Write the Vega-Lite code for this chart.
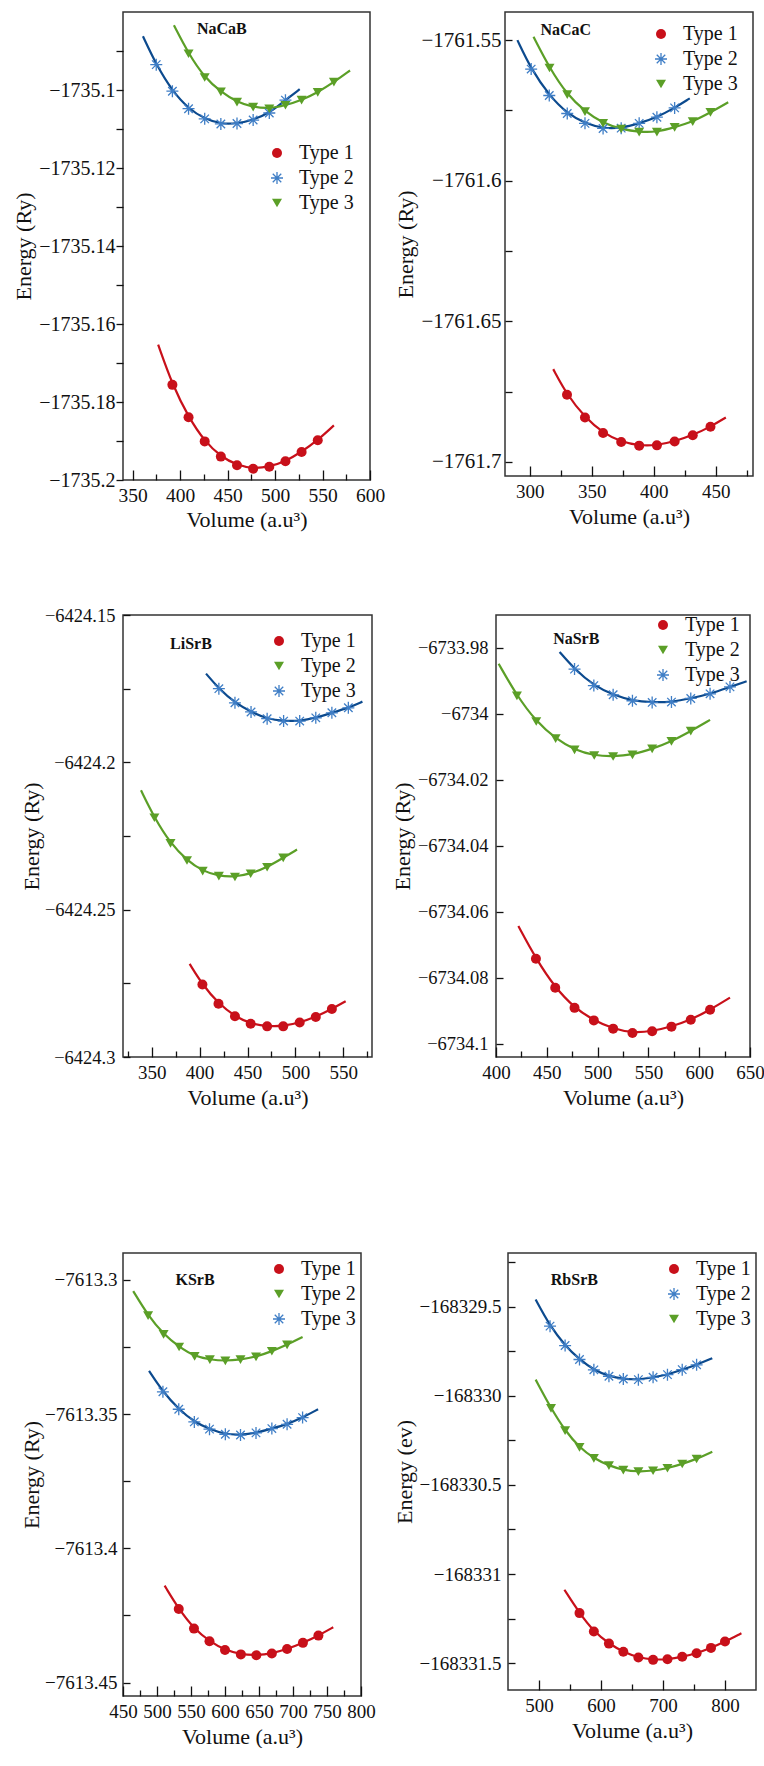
{
  "$schema": "https://vega.github.io/schema/vega-lite/v6.json",
  "background": "white",
  "padding": {"left": 11, "top": 11, "right": 0, "bottom": 0},
  "config": {
    "view": {"stroke": "#333333", "strokeWidth": 1.5},
    "axis": {"domain": false, "grid": false, "tickColor": "#111111", "tickWidth": 1.3, "labelFont": "Liberation Serif", "labelFontSize": 20, "labelColor": "#111111", "titleFont": "Liberation Serif", "titleFontSize": 22, "titleFontWeight": "normal", "titleColor": "#111111", "labelFlush": false, "labelOverlap": false, "labelBound": false},
    "legend": {"labelFont": "Liberation Serif", "labelFontSize": 20, "labelColor": "#111111", "symbolSize": 100, "rowPadding": 5, "labelOffset": 12, "padding": 0, "symbolStrokeWidth": 0}
  },
  "resolve": {"scale": {"color": "independent", "shape": "independent", "stroke": "independent"}, "legend": {"color": "independent", "shape": "independent"}},
  "spacing": 143,
  "vconcat": [
    {
      "spacing": 73,
      "resolve": {"scale": {"color": "independent", "shape": "independent", "stroke": "independent"}, "legend": {"color": "independent", "shape": "independent"}},
      "vconcat": [
        {
          "spacing": 135, "bounds": "flush",
          "resolve": {"scale": {"color": "independent", "shape": "independent", "stroke": "independent"}, "legend": {"color": "independent", "shape": "independent"}},
          "hconcat": [
            {
              "width": 247, "height": 468,
              "data": {"values": [
                {"v":377,"e":-1735.1653,"t":"Type 1","k":"c"},{"v":392,"e":-1735.1756,"t":"Type 1","k":"p"},{"v":409,"e":-1735.1839,"t":"Type 1","k":"p"},{"v":426,"e":-1735.1901,"t":"Type 1","k":"p"},{"v":443,"e":-1735.194,"t":"Type 1","k":"p"},{"v":460,"e":-1735.1962,"t":"Type 1","k":"p"},{"v":477,"e":-1735.1971,"t":"Type 1","k":"p"},{"v":494,"e":-1735.1966,"t":"Type 1","k":"p"},{"v":511,"e":-1735.1952,"t":"Type 1","k":"p"},{"v":528,"e":-1735.1928,"t":"Type 1","k":"p"},{"v":545,"e":-1735.1898,"t":"Type 1","k":"p"},{"v":562,"e":-1735.186,"t":"Type 1","k":"c"},
                {"v":361,"e":-1735.0862,"t":"Type 2","k":"c"},{"v":375,"e":-1735.0935,"t":"Type 2","k":"p"},{"v":392,"e":-1735.1003,"t":"Type 2","k":"p"},{"v":409,"e":-1735.1048,"t":"Type 2","k":"p"},{"v":426,"e":-1735.1074,"t":"Type 2","k":"p"},{"v":443,"e":-1735.1087,"t":"Type 2","k":"p"},{"v":460,"e":-1735.1086,"t":"Type 2","k":"p"},{"v":477,"e":-1735.1077,"t":"Type 2","k":"p"},{"v":494,"e":-1735.1059,"t":"Type 2","k":"p"},{"v":511,"e":-1735.1026,"t":"Type 2","k":"p"},{"v":526,"e":-1735.0998,"t":"Type 2","k":"c"},
                {"v":393.6,"e":-1735.0834,"t":"Type 3","k":"c"},{"v":409,"e":-1735.0907,"t":"Type 3","k":"p"},{"v":426,"e":-1735.0968,"t":"Type 3","k":"p"},{"v":443,"e":-1735.1005,"t":"Type 3","k":"p"},{"v":460,"e":-1735.1031,"t":"Type 3","k":"p"},{"v":477,"e":-1735.1044,"t":"Type 3","k":"p"},{"v":494,"e":-1735.1048,"t":"Type 3","k":"p"},{"v":511,"e":-1735.1039,"t":"Type 3","k":"p"},{"v":528,"e":-1735.1026,"t":"Type 3","k":"p"},{"v":545,"e":-1735.1006,"t":"Type 3","k":"p"},{"v":562,"e":-1735.098,"t":"Type 3","k":"p"},{"v":579,"e":-1735.095,"t":"Type 3","k":"c"}
              ]},
              "resolve": {"axis": {"x": "independent"}},
              "layer": [
                {"mark": {"type": "line", "interpolate": "basis", "strokeWidth": 2.2},
                 "encoding": {
                   "x": {"field": "v", "type": "quantitative", "scale": {"domain": [340, 600], "zero": false, "nice": false}, "axis": {"orient": "bottom", "values": [350,400,450,500,550,600], "tickSize": -10, "labelPadding": 16, "labelFontSize": 19.5, "title": "Volume (a.u³)", "titlePadding": 5, "format": "d"}},
                   "y": {"field": "e", "type": "quantitative", "scale": {"domain": [-1735.2, -1735.08], "zero": false, "nice": false}, "axis": {"orient": "left", "values": [-1735.2,-1735.19,-1735.18,-1735.17,-1735.16,-1735.15,-1735.14,-1735.13,-1735.12,-1735.11,-1735.1,-1735.09], "labelExpr": "indexof([-1735.2,-1735.18,-1735.16,-1735.14,-1735.12,-1735.1], datum.value) >= 0 ? format(datum.value, '.4~f') : ''", "tickSize": 7, "labelPadding": 1, "labelFontSize": 20, "title": "Energy (Ry)", "titlePadding": 3}},
                   "stroke": {"field": "t", "type": "nominal", "scale": {"domain": ["Type 3","Type 2","Type 1"], "range": ["#5b9f27","#0c4a8e","#c8101a"]}, "legend": null}
                 }},
                {"transform": [{"filter": "datum.k == 'p'"}],
                 "mark": {"type": "point", "filled": true, "size": 100, "opacity": 1},
                 "encoding": {
                   "x": {"field": "v", "type": "quantitative", "axis": {"orient": "bottom", "values": [375,425,475,525,575], "tickSize": -6, "labels": false, "title": null}},
                   "y": {"field": "e", "type": "quantitative"},
                   "color": {"field": "t", "type": "nominal", "scale": {"domain": ["Type 1","Type 2","Type 3"], "range": ["#c8101a","#3f7ec6","#5b9f27"]}, "legend": {"title": null, "orient": "none", "legendX": 144, "legendY": 131}},
                   "shape": {"field": "t", "type": "nominal", "scale": {"domain": ["Type 1","Type 2","Type 3"], "range": ["circle","M-0.13,-1.2L0.13,-1.2L0.13,1.2L-0.13,1.2ZM-1.2,-0.13L1.2,-0.13L1.2,0.13L-1.2,0.13ZM0.757,0.941L-0.941,-0.757L-0.757,-0.941L0.941,0.757ZM0.941,-0.757L-0.757,0.941L-0.941,0.757L0.757,-0.941Z","triangle-down"]}, "legend": {"title": null, "orient": "none", "legendX": 144, "legendY": 131}}
                 }},
                {"data": {"values": [{"v": 444, "e": -1735.0843, "n": "NaCaB"}]},
                 "mark": {"type": "text", "font": "Liberation Serif", "fontWeight": "bold", "fontSize": 16, "color": "#111111"},
                 "encoding": {"x": {"field": "v", "type": "quantitative", "axis": null}, "y": {"field": "e", "type": "quantitative"}, "text": {"field": "n"}}}
              ]
            },
            {
              "width": 248, "height": 464,
              "data": {"values": [
                {"v":318.9,"e":-1761.667,"t":"Type 1","k":"c"},{"v":330,"e":-1761.6761,"t":"Type 1","k":"p"},{"v":344.5,"e":-1761.6842,"t":"Type 1","k":"p"},{"v":359.1,"e":-1761.6897,"t":"Type 1","k":"p"},{"v":373.7,"e":-1761.6929,"t":"Type 1","k":"p"},{"v":388.2,"e":-1761.6942,"t":"Type 1","k":"p"},{"v":402.5,"e":-1761.6941,"t":"Type 1","k":"p"},{"v":416.8,"e":-1761.6927,"t":"Type 1","k":"p"},{"v":431.4,"e":-1761.6905,"t":"Type 1","k":"p"},{"v":445.7,"e":-1761.6875,"t":"Type 1","k":"p"},{"v":458.1,"e":-1761.6842,"t":"Type 1","k":"c"},
                {"v":290,"e":-1761.55,"t":"Type 2","k":"c"},{"v":301.1,"e":-1761.5603,"t":"Type 2","k":"p"},{"v":315.7,"e":-1761.5697,"t":"Type 2","k":"p"},{"v":330.2,"e":-1761.5761,"t":"Type 2","k":"p"},{"v":344.5,"e":-1761.5796,"t":"Type 2","k":"p"},{"v":359.1,"e":-1761.5814,"t":"Type 2","k":"p"},{"v":373.7,"e":-1761.5813,"t":"Type 2","k":"p"},{"v":388.2,"e":-1761.5796,"t":"Type 2","k":"p"},{"v":402.5,"e":-1761.5774,"t":"Type 2","k":"p"},{"v":416.8,"e":-1761.5741,"t":"Type 2","k":"p"},{"v":429,"e":-1761.5707,"t":"Type 2","k":"c"},
                {"v":303,"e":-1761.5488,"t":"Type 3","k":"c"},{"v":315.9,"e":-1761.5599,"t":"Type 3","k":"p"},{"v":330.2,"e":-1761.5694,"t":"Type 3","k":"p"},{"v":344.5,"e":-1761.5754,"t":"Type 3","k":"p"},{"v":359.1,"e":-1761.5796,"t":"Type 3","k":"p"},{"v":373.7,"e":-1761.5816,"t":"Type 3","k":"p"},{"v":388.2,"e":-1761.5827,"t":"Type 3","k":"p"},{"v":402.5,"e":-1761.5827,"t":"Type 3","k":"p"},{"v":416.8,"e":-1761.581,"t":"Type 3","k":"p"},{"v":431.4,"e":-1761.579,"t":"Type 3","k":"p"},{"v":445.7,"e":-1761.5757,"t":"Type 3","k":"p"},{"v":460,"e":-1761.5721,"t":"Type 3","k":"c"}
              ]},
              "resolve": {"axis": {"x": "independent"}},
              "layer": [
                {"mark": {"type": "line", "interpolate": "basis", "strokeWidth": 2.2},
                 "encoding": {
                   "x": {"field": "v", "type": "quantitative", "scale": {"domain": [280, 480], "zero": false, "nice": false}, "axis": {"orient": "bottom", "values": [300,350,400,450], "tickSize": -10, "labelPadding": 16, "labelFontSize": 19, "title": "Volume (a.u³)", "titlePadding": 5, "format": "d"}},
                   "y": {"field": "e", "type": "quantitative", "scale": {"domain": [-1761.705, -1761.54], "zero": false, "nice": false}, "axis": {"orient": "left", "values": [-1761.7,-1761.675,-1761.65,-1761.625,-1761.6,-1761.575,-1761.55], "labelExpr": "indexof([-1761.7,-1761.65,-1761.6,-1761.55], datum.value) >= 0 ? format(datum.value, '.4~f') : ''", "tickSize": -7, "labelPadding": 11, "labelFontSize": 21, "title": "Energy (Ry)", "titlePadding": 3}},
                   "stroke": {"field": "t", "type": "nominal", "scale": {"domain": ["Type 3","Type 2","Type 1"], "range": ["#5b9f27","#0c4a8e","#c8101a"]}, "legend": null}
                 }},
                {"transform": [{"filter": "datum.k == 'p'"}],
                 "mark": {"type": "point", "filled": true, "size": 100, "opacity": 1},
                 "encoding": {
                   "x": {"field": "v", "type": "quantitative", "axis": {"orient": "bottom", "values": [325,375,425,475], "tickSize": -6, "labels": false, "title": null}},
                   "y": {"field": "e", "type": "quantitative"},
                   "color": {"field": "t", "type": "nominal", "scale": {"domain": ["Type 1","Type 2","Type 3"], "range": ["#c8101a","#3f7ec6","#5b9f27"]}, "legend": {"title": null, "orient": "none", "legendX": 146, "legendY": 12}},
                   "shape": {"field": "t", "type": "nominal", "scale": {"domain": ["Type 1","Type 2","Type 3"], "range": ["circle","M-0.13,-1.2L0.13,-1.2L0.13,1.2L-0.13,1.2ZM-1.2,-0.13L1.2,-0.13L1.2,0.13L-1.2,0.13ZM0.757,0.941L-0.941,-0.757L-0.757,-0.941L0.941,0.757ZM0.941,-0.757L-0.757,0.941L-0.941,0.757L0.757,-0.941Z","triangle-down"]}, "legend": {"title": null, "orient": "none", "legendX": 146, "legendY": 12}}
                 }},
                {"data": {"values": [{"v": 329, "e": -1761.5465, "n": "NaCaC"}]},
                 "mark": {"type": "text", "font": "Liberation Serif", "fontWeight": "bold", "fontSize": 16, "color": "#111111"},
                 "encoding": {"x": {"field": "v", "type": "quantitative", "axis": null}, "y": {"field": "e", "type": "quantitative"}, "text": {"field": "n"}}}
              ]
            }
          ]
        },
        {
          "spacing": 124, "bounds": "flush",
          "resolve": {"scale": {"color": "independent", "shape": "independent", "stroke": "independent"}, "legend": {"color": "independent", "shape": "independent"}},
          "hconcat": [
            {
              "width": 249, "height": 442,
              "data": {"values": [
                {"v":389.6,"e":-6424.2684,"t":"Type 1","k":"c"},{"v":402.9,"e":-6424.2754,"t":"Type 1","k":"p"},{"v":419.7,"e":-6424.2819,"t":"Type 1","k":"p"},{"v":436.9,"e":-6424.2862,"t":"Type 1","k":"p"},{"v":453.3,"e":-6424.2887,"t":"Type 1","k":"p"},{"v":470.5,"e":-6424.2896,"t":"Type 1","k":"p"},{"v":487.3,"e":-6424.2896,"t":"Type 1","k":"p"},{"v":504.5,"e":-6424.2883,"t":"Type 1","k":"p"},{"v":521.3,"e":-6424.2864,"t":"Type 1","k":"p"},{"v":538.1,"e":-6424.2837,"t":"Type 1","k":"p"},{"v":552.5,"e":-6424.2811,"t":"Type 1","k":"c"},
                {"v":338.8,"e":-6424.2095,"t":"Type 2","k":"c"},{"v":352.8,"e":-6424.2188,"t":"Type 2","k":"p"},{"v":369.6,"e":-6424.2275,"t":"Type 2","k":"p"},{"v":386.8,"e":-6424.2333,"t":"Type 2","k":"p"},{"v":403.2,"e":-6424.2369,"t":"Type 2","k":"p"},{"v":420.1,"e":-6424.2386,"t":"Type 2","k":"p"},{"v":436.9,"e":-6424.2389,"t":"Type 2","k":"p"},{"v":453.3,"e":-6424.2378,"t":"Type 2","k":"p"},{"v":470.5,"e":-6424.2356,"t":"Type 2","k":"p"},{"v":487.3,"e":-6424.2324,"t":"Type 2","k":"p"},{"v":501.7,"e":-6424.2296,"t":"Type 2","k":"c"},
                {"v":406.7,"e":-6424.1699,"t":"Type 3","k":"c"},{"v":420.1,"e":-6424.175,"t":"Type 3","k":"p"},{"v":436.9,"e":-6424.1798,"t":"Type 3","k":"p"},{"v":453.7,"e":-6424.1829,"t":"Type 3","k":"p"},{"v":470.5,"e":-6424.1852,"t":"Type 3","k":"p"},{"v":487.7,"e":-6424.186,"t":"Type 3","k":"p"},{"v":504.5,"e":-6424.186,"t":"Type 3","k":"p"},{"v":521.3,"e":-6424.1849,"t":"Type 3","k":"p"},{"v":538.1,"e":-6424.1832,"t":"Type 3","k":"p"},{"v":555.3,"e":-6424.1815,"t":"Type 3","k":"p"},{"v":570,"e":-6424.1794,"t":"Type 3","k":"c"}
              ]},
              "resolve": {"axis": {"x": "independent"}},
              "layer": [
                {"mark": {"type": "line", "interpolate": "basis", "strokeWidth": 2.2},
                 "encoding": {
                   "x": {"field": "v", "type": "quantitative", "scale": {"domain": [320, 580], "zero": false, "nice": false}, "axis": {"orient": "bottom", "values": [350,400,450,500,550], "tickSize": -10, "labelPadding": 16, "labelFontSize": 19, "title": "Volume (a.u³)", "titlePadding": 5, "format": "d"}},
                   "y": {"field": "e", "type": "quantitative", "scale": {"domain": [-6424.3, -6424.15], "zero": false, "nice": false}, "axis": {"orient": "left", "values": [-6424.3,-6424.275,-6424.25,-6424.225,-6424.2,-6424.175,-6424.15], "labelExpr": "indexof([-6424.3,-6424.25,-6424.2,-6424.15], datum.value) >= 0 ? format(datum.value, '.4~f') : ''", "tickSize": -7, "labelPadding": 15, "labelFontSize": 18.5, "title": "Energy (Ry)", "titlePadding": 1}},
                   "stroke": {"field": "t", "type": "nominal", "scale": {"domain": ["Type 3","Type 2","Type 1"], "range": ["#0c4a8e","#5b9f27","#c8101a"]}, "legend": null}
                 }},
                {"transform": [{"filter": "datum.k == 'p'"}],
                 "mark": {"type": "point", "filled": true, "size": 100, "opacity": 1},
                 "encoding": {
                   "x": {"field": "v", "type": "quantitative", "axis": {"orient": "bottom", "values": [325,375,425,475,525,575], "tickSize": -6, "labels": false, "title": null}},
                   "y": {"field": "e", "type": "quantitative"},
                   "color": {"field": "t", "type": "nominal", "scale": {"domain": ["Type 1","Type 2","Type 3"], "range": ["#c8101a","#5b9f27","#3f7ec6"]}, "legend": {"title": null, "orient": "none", "legendX": 146, "legendY": 16}},
                   "shape": {"field": "t", "type": "nominal", "scale": {"domain": ["Type 1","Type 2","Type 3"], "range": ["circle","triangle-down","M-0.13,-1.2L0.13,-1.2L0.13,1.2L-0.13,1.2ZM-1.2,-0.13L1.2,-0.13L1.2,0.13L-1.2,0.13ZM0.757,0.941L-0.941,-0.757L-0.757,-0.941L0.941,0.757ZM0.941,-0.757L-0.757,0.941L-0.941,0.757L0.757,-0.941Z"]}, "legend": {"title": null, "orient": "none", "legendX": 146, "legendY": 16}}
                 }},
                {"data": {"values": [{"v": 391, "e": -6424.1597, "n": "LiSrB"}]},
                 "mark": {"type": "text", "font": "Liberation Serif", "fontWeight": "bold", "fontSize": 16, "color": "#111111"},
                 "encoding": {"x": {"field": "v", "type": "quantitative", "axis": null}, "y": {"field": "e", "type": "quantitative"}, "text": {"field": "n"}}}
              ]
            },
            {
              "width": 254, "height": 442,
              "data": {"values": [
                {"v":422,"e":-6734.0643,"t":"Type 1","k":"c"},{"v":439.3,"e":-6734.0742,"t":"Type 1","k":"p"},{"v":458.3,"e":-6734.083,"t":"Type 1","k":"p"},{"v":477.3,"e":-6734.0891,"t":"Type 1","k":"p"},{"v":496.3,"e":-6734.0929,"t":"Type 1","k":"p"},{"v":515.3,"e":-6734.0954,"t":"Type 1","k":"p"},{"v":534.3,"e":-6734.0967,"t":"Type 1","k":"p"},{"v":553.7,"e":-6734.0962,"t":"Type 1","k":"p"},{"v":572.7,"e":-6734.0948,"t":"Type 1","k":"p"},{"v":591.7,"e":-6734.0927,"t":"Type 1","k":"p"},{"v":610.7,"e":-6734.0897,"t":"Type 1","k":"p"},{"v":630.3,"e":-6734.086,"t":"Type 1","k":"c"},
                {"v":402.6,"e":-6733.9848,"t":"Type 2","k":"c"},{"v":420.6,"e":-6733.9945,"t":"Type 2","k":"p"},{"v":439.6,"e":-6734.0023,"t":"Type 2","k":"p"},{"v":458.7,"e":-6734.0075,"t":"Type 2","k":"p"},{"v":477.3,"e":-6734.0109,"t":"Type 2","k":"p"},{"v":496.7,"e":-6734.0126,"t":"Type 2","k":"p"},{"v":515.3,"e":-6734.0129,"t":"Type 2","k":"p"},{"v":534.3,"e":-6734.0124,"t":"Type 2","k":"p"},{"v":553.7,"e":-6734.0106,"t":"Type 2","k":"p"},{"v":572.7,"e":-6734.0083,"t":"Type 2","k":"p"},{"v":591.7,"e":-6734.0052,"t":"Type 2","k":"p"},{"v":610.7,"e":-6734.0018,"t":"Type 2","k":"c"},
                {"v":462.6,"e":-6733.9812,"t":"Type 3","k":"c"},{"v":477.3,"e":-6733.9864,"t":"Type 3","k":"p"},{"v":496.3,"e":-6733.9914,"t":"Type 3","k":"p"},{"v":515.3,"e":-6733.9942,"t":"Type 3","k":"p"},{"v":534.3,"e":-6733.996,"t":"Type 3","k":"p"},{"v":553.7,"e":-6733.9965,"t":"Type 3","k":"p"},{"v":572.7,"e":-6733.9964,"t":"Type 3","k":"p"},{"v":591.7,"e":-6733.9953,"t":"Type 3","k":"p"},{"v":610.7,"e":-6733.9939,"t":"Type 3","k":"p"},{"v":630.3,"e":-6733.9918,"t":"Type 3","k":"p"},{"v":646.7,"e":-6733.9901,"t":"Type 3","k":"c"}
              ]},
              "resolve": {"axis": {"x": "independent"}},
              "layer": [
                {"mark": {"type": "line", "interpolate": "basis", "strokeWidth": 2.2},
                 "encoding": {
                   "x": {"field": "v", "type": "quantitative", "scale": {"domain": [400, 650], "zero": false, "nice": false}, "axis": {"orient": "bottom", "values": [400,450,500,550,600,650], "tickSize": -10, "labelPadding": 16, "labelFontSize": 19, "title": "Volume (a.u³)", "titlePadding": 5, "format": "d"}},
                   "y": {"field": "e", "type": "quantitative", "scale": {"domain": [-6734.104, -6733.97], "zero": false, "nice": false}, "axis": {"orient": "left", "values": [-6734.1,-6734.09,-6734.08,-6734.07,-6734.06,-6734.05,-6734.04,-6734.03,-6734.02,-6734.01,-6734,-6733.99,-6733.98], "labelExpr": "indexof([-6734.1,-6734.08,-6734.06,-6734.04,-6734.02,-6734,-6733.98], datum.value) >= 0 ? format(datum.value, '.4~f') : ''", "tickSize": -7, "labelPadding": 15, "labelFontSize": 18.5, "title": "Energy (Ry)", "titlePadding": 3}},
                   "stroke": {"field": "t", "type": "nominal", "scale": {"domain": ["Type 3","Type 2","Type 1"], "range": ["#0c4a8e","#5b9f27","#c8101a"]}, "legend": null}
                 }},
                {"transform": [{"filter": "datum.k == 'p'"}],
                 "mark": {"type": "point", "filled": true, "size": 100, "opacity": 1},
                 "encoding": {
                   "x": {"field": "v", "type": "quantitative", "axis": {"orient": "bottom", "values": [425,475,525,575,625], "tickSize": -6, "labels": false, "title": null}},
                   "y": {"field": "e", "type": "quantitative"},
                   "color": {"field": "t", "type": "nominal", "scale": {"domain": ["Type 1","Type 2","Type 3"], "range": ["#c8101a","#5b9f27","#3f7ec6"]}, "legend": {"title": null, "orient": "none", "legendX": 157, "legendY": 0}},
                   "shape": {"field": "t", "type": "nominal", "scale": {"domain": ["Type 1","Type 2","Type 3"], "range": ["circle","triangle-down","M-0.13,-1.2L0.13,-1.2L0.13,1.2L-0.13,1.2ZM-1.2,-0.13L1.2,-0.13L1.2,0.13L-1.2,0.13ZM0.757,0.941L-0.941,-0.757L-0.757,-0.941L0.941,0.757ZM0.941,-0.757L-0.757,0.941L-0.941,0.757L0.757,-0.941Z"]}, "legend": {"title": null, "orient": "none", "legendX": 157, "legendY": 0}}
                 }},
                {"data": {"values": [{"v": 479, "e": -6733.9773, "n": "NaSrB"}]},
                 "mark": {"type": "text", "font": "Liberation Serif", "fontWeight": "bold", "fontSize": 16, "color": "#111111"},
                 "encoding": {"x": {"field": "v", "type": "quantitative", "axis": null}, "y": {"field": "e", "type": "quantitative"}, "text": {"field": "n"}}}
              ]
            }
          ]
        }
      ]
    },
    {
      "spacing": 147, "bounds": "flush",
      "resolve": {"scale": {"color": "independent", "shape": "independent", "stroke": "independent"}, "legend": {"color": "independent", "shape": "independent"}},
      "hconcat": [
        {
          "width": 238, "height": 443,
          "data": {"values": [
            {"v":511.2,"e":-7613.4139,"t":"Type 1","k":"c"},{"v":532,"e":-7613.4226,"t":"Type 1","k":"p"},{"v":554.4,"e":-7613.4299,"t":"Type 1","k":"p"},{"v":577.2,"e":-7613.4346,"t":"Type 1","k":"p"},{"v":600,"e":-7613.4379,"t":"Type 1","k":"p"},{"v":623.3,"e":-7613.4395,"t":"Type 1","k":"p"},{"v":646.1,"e":-7613.4398,"t":"Type 1","k":"p"},{"v":668.9,"e":-7613.4392,"t":"Type 1","k":"p"},{"v":691.3,"e":-7613.4375,"t":"Type 1","k":"p"},{"v":714.6,"e":-7613.4352,"t":"Type 1","k":"p"},{"v":737.4,"e":-7613.4325,"t":"Type 1","k":"p"},{"v":759.2,"e":-7613.4294,"t":"Type 1","k":"c"},
            {"v":465,"e":-7613.3042,"t":"Type 2","k":"c"},{"v":486.9,"e":-7613.3133,"t":"Type 2","k":"p"},{"v":509.7,"e":-7613.3203,"t":"Type 2","k":"p"},{"v":532.5,"e":-7613.325,"t":"Type 2","k":"p"},{"v":555.3,"e":-7613.3285,"t":"Type 2","k":"p"},{"v":577.7,"e":-7613.3297,"t":"Type 2","k":"p"},{"v":600.5,"e":-7613.3302,"t":"Type 2","k":"p"},{"v":622.8,"e":-7613.3297,"t":"Type 2","k":"p"},{"v":645.6,"e":-7613.3287,"t":"Type 2","k":"p"},{"v":668.9,"e":-7613.3266,"t":"Type 2","k":"p"},{"v":691.3,"e":-7613.3242,"t":"Type 2","k":"p"},{"v":714.1,"e":-7613.3213,"t":"Type 2","k":"c"},
            {"v":488.3,"e":-7613.3339,"t":"Type 3","k":"c"},{"v":508.7,"e":-7613.3417,"t":"Type 3","k":"p"},{"v":532,"e":-7613.3482,"t":"Type 3","k":"p"},{"v":554.9,"e":-7613.3529,"t":"Type 3","k":"p"},{"v":577.2,"e":-7613.3556,"t":"Type 3","k":"p"},{"v":600.5,"e":-7613.3575,"t":"Type 3","k":"p"},{"v":622.8,"e":-7613.3578,"t":"Type 3","k":"p"},{"v":645.6,"e":-7613.357,"t":"Type 3","k":"p"},{"v":668.9,"e":-7613.3554,"t":"Type 3","k":"p"},{"v":691.3,"e":-7613.3538,"t":"Type 3","k":"p"},{"v":714.1,"e":-7613.3513,"t":"Type 3","k":"p"},{"v":736.9,"e":-7613.3482,"t":"Type 3","k":"c"}
          ]},
          "resolve": {"axis": {"x": "independent"}},
          "layer": [
            {"mark": {"type": "line", "interpolate": "basis", "strokeWidth": 2.2},
             "encoding": {
               "x": {"field": "v", "type": "quantitative", "scale": {"domain": [450, 800], "zero": false, "nice": false}, "axis": {"orient": "bottom", "values": [450,500,550,600,650,700,750,800], "tickSize": -10, "labelPadding": 16, "labelFontSize": 19, "title": "Volume (a.u³)", "titlePadding": 5, "format": "d"}},
               "y": {"field": "e", "type": "quantitative", "scale": {"domain": [-7613.455, -7613.29], "zero": false, "nice": false}, "axis": {"orient": "left", "values": [-7613.45,-7613.425,-7613.4,-7613.375,-7613.35,-7613.325,-7613.3], "labelExpr": "indexof([-7613.45,-7613.4,-7613.35,-7613.3], datum.value) >= 0 ? format(datum.value, '.4~f') : ''", "tickSize": -7, "labelPadding": 13, "labelFontSize": 19, "title": "Energy (Ry)", "titlePadding": 1}},
               "stroke": {"field": "t", "type": "nominal", "scale": {"domain": ["Type 3","Type 2","Type 1"], "range": ["#0c4a8e","#5b9f27","#c8101a"]}, "legend": null}
             }},
            {"transform": [{"filter": "datum.k == 'p'"}],
             "mark": {"type": "point", "filled": true, "size": 100, "opacity": 1},
             "encoding": {
               "x": {"field": "v", "type": "quantitative", "axis": {"orient": "bottom", "values": [475,525,575,625,675,725,775], "tickSize": -6, "labels": false, "title": null}},
               "y": {"field": "e", "type": "quantitative"},
               "color": {"field": "t", "type": "nominal", "scale": {"domain": ["Type 1","Type 2","Type 3"], "range": ["#c8101a","#5b9f27","#3f7ec6"]}, "legend": {"title": null, "orient": "none", "legendX": 146, "legendY": 6}},
               "shape": {"field": "t", "type": "nominal", "scale": {"domain": ["Type 1","Type 2","Type 3"], "range": ["circle","triangle-down","M-0.13,-1.2L0.13,-1.2L0.13,1.2L-0.13,1.2ZM-1.2,-0.13L1.2,-0.13L1.2,0.13L-1.2,0.13ZM0.757,0.941L-0.941,-0.757L-0.757,-0.941L0.941,0.757ZM0.941,-0.757L-0.757,0.941L-0.941,0.757L0.757,-0.941Z"]}, "legend": {"title": null, "orient": "none", "legendX": 146, "legendY": 6}}
             }},
            {"data": {"values": [{"v": 556, "e": -7613.3, "n": "KSrB"}]},
             "mark": {"type": "text", "font": "Liberation Serif", "fontWeight": "bold", "fontSize": 16, "color": "#111111"},
             "encoding": {"x": {"field": "v", "type": "quantitative", "axis": null}, "y": {"field": "e", "type": "quantitative"}, "text": {"field": "n"}}}
          ]
        },
        {
          "width": 248, "height": 437,
          "data": {"values": [
            {"v":541,"e":-168331.088,"t":"Type 1","k":"c"},{"v":565.3,"e":-168331.219,"t":"Type 1","k":"p"},{"v":588.5,"e":-168331.322,"t":"Type 1","k":"p"},{"v":612.8,"e":-168331.39,"t":"Type 1","k":"p"},{"v":636,"e":-168331.436,"t":"Type 1","k":"p"},{"v":660.3,"e":-168331.468,"t":"Type 1","k":"p"},{"v":684,"e":-168331.481,"t":"Type 1","k":"p"},{"v":707.2,"e":-168331.478,"t":"Type 1","k":"p"},{"v":731,"e":-168331.464,"t":"Type 1","k":"p"},{"v":754.2,"e":-168331.444,"t":"Type 1","k":"p"},{"v":777.4,"e":-168331.414,"t":"Type 1","k":"p"},{"v":800,"e":-168331.378,"t":"Type 1","k":"p"},{"v":826.5,"e":-168331.332,"t":"Type 1","k":"c"},
            {"v":494.6,"e":-168329.461,"t":"Type 2","k":"c"},{"v":517.8,"e":-168329.61,"t":"Type 2","k":"p"},{"v":542.1,"e":-168329.719,"t":"Type 2","k":"p"},{"v":565.3,"e":-168329.797,"t":"Type 2","k":"p"},{"v":588.5,"e":-168329.855,"t":"Type 2","k":"p"},{"v":612.8,"e":-168329.891,"t":"Type 2","k":"p"},{"v":636,"e":-168329.906,"t":"Type 2","k":"p"},{"v":660.3,"e":-168329.91,"t":"Type 2","k":"p"},{"v":684,"e":-168329.897,"t":"Type 2","k":"p"},{"v":707.2,"e":-168329.882,"t":"Type 2","k":"p"},{"v":731,"e":-168329.854,"t":"Type 2","k":"p"},{"v":754.2,"e":-168329.827,"t":"Type 2","k":"p"},{"v":779.5,"e":-168329.79,"t":"Type 2","k":"c"},
            {"v":494.6,"e":-168329.91,"t":"Type 3","k":"c"},{"v":519.4,"e":-168330.071,"t":"Type 3","k":"p"},{"v":542.1,"e":-168330.196,"t":"Type 3","k":"p"},{"v":565.3,"e":-168330.29,"t":"Type 3","k":"p"},{"v":588.5,"e":-168330.351,"t":"Type 3","k":"p"},{"v":612.8,"e":-168330.392,"t":"Type 3","k":"p"},{"v":636,"e":-168330.417,"t":"Type 3","k":"p"},{"v":660.3,"e":-168330.426,"t":"Type 3","k":"p"},{"v":684,"e":-168330.421,"t":"Type 3","k":"p"},{"v":707.2,"e":-168330.407,"t":"Type 3","k":"p"},{"v":731,"e":-168330.383,"t":"Type 3","k":"p"},{"v":754.2,"e":-168330.355,"t":"Type 3","k":"p"},{"v":779.5,"e":-168330.314,"t":"Type 3","k":"c"}
          ]},
          "resolve": {"axis": {"x": "independent"}},
          "layer": [
            {"mark": {"type": "line", "interpolate": "basis", "strokeWidth": 2.2},
             "encoding": {
               "x": {"field": "v", "type": "quantitative", "scale": {"domain": [450, 850], "zero": false, "nice": false}, "axis": {"orient": "bottom", "values": [500,600,700,800], "tickSize": -10, "labelPadding": 16, "labelFontSize": 19, "title": "Volume (a.u³)", "titlePadding": 5, "format": "d"}},
               "y": {"field": "e", "type": "quantitative", "scale": {"domain": [-168331.65, -168329.2], "zero": false, "nice": false}, "axis": {"orient": "left", "values": [-168331.5,-168331.25,-168331,-168330.75,-168330.5,-168330.25,-168330,-168329.75,-168329.5,-168329.25], "labelExpr": "indexof([-168331.5,-168331,-168330.5,-168330,-168329.5], datum.value) >= 0 ? format(datum.value, '.4~f') : ''", "tickSize": -7, "labelPadding": 14, "labelFontSize": 19, "title": "Energy (ev)", "titlePadding": 3}},
               "stroke": {"field": "t", "type": "nominal", "scale": {"domain": ["Type 3","Type 2","Type 1"], "range": ["#5b9f27","#0c4a8e","#c8101a"]}, "legend": null}
             }},
            {"transform": [{"filter": "datum.k == 'p'"}],
             "mark": {"type": "point", "filled": true, "size": 100, "opacity": 1},
             "encoding": {
               "x": {"field": "v", "type": "quantitative", "axis": {"orient": "bottom", "values": [550,650,750], "tickSize": -6, "labels": false, "title": null}},
               "y": {"field": "e", "type": "quantitative"},
               "color": {"field": "t", "type": "nominal", "scale": {"domain": ["Type 1","Type 2","Type 3"], "range": ["#c8101a","#3f7ec6","#5b9f27"]}, "legend": {"title": null, "orient": "none", "legendX": 156, "legendY": 6}},
               "shape": {"field": "t", "type": "nominal", "scale": {"domain": ["Type 1","Type 2","Type 3"], "range": ["circle","M-0.13,-1.2L0.13,-1.2L0.13,1.2L-0.13,1.2ZM-1.2,-0.13L1.2,-0.13L1.2,0.13L-1.2,0.13ZM0.757,0.941L-0.941,-0.757L-0.757,-0.941L0.941,0.757ZM0.941,-0.757L-0.757,0.941L-0.941,0.757L0.757,-0.941Z","triangle-down"]}, "legend": {"title": null, "orient": "none", "legendX": 156, "legendY": 6}}
             }},
            {"data": {"values": [{"v": 557, "e": -168329.354, "n": "RbSrB"}]},
             "mark": {"type": "text", "font": "Liberation Serif", "fontWeight": "bold", "fontSize": 16, "color": "#111111"},
             "encoding": {"x": {"field": "v", "type": "quantitative", "axis": null}, "y": {"field": "e", "type": "quantitative"}, "text": {"field": "n"}}}
          ]
        }
      ]
    }
  ]
}
